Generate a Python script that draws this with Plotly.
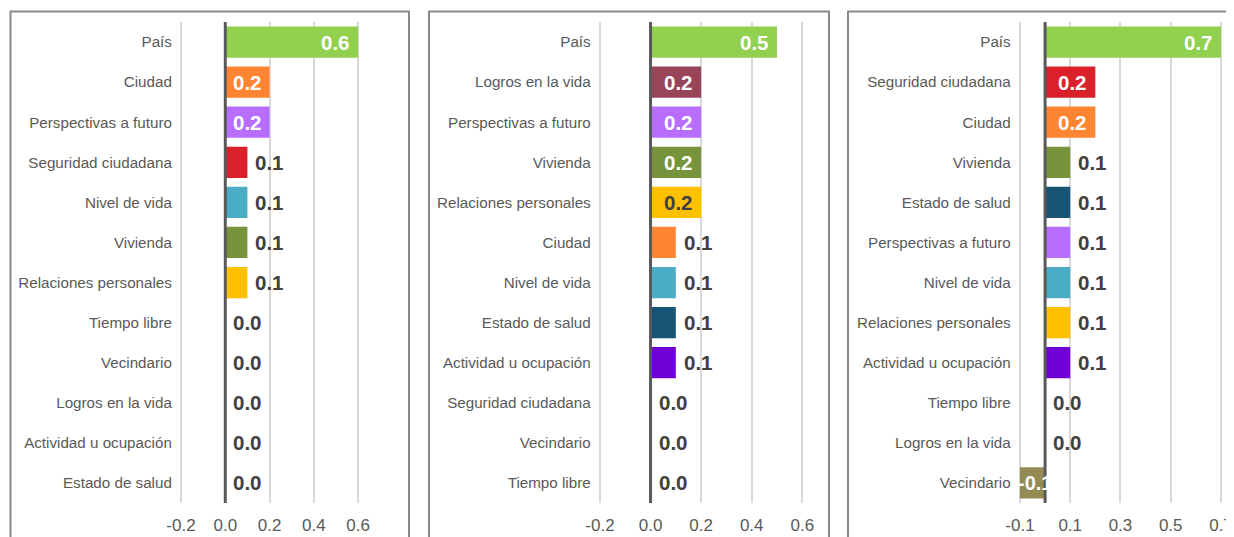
import plotly.graph_objects as go

# Colores por categoria
colores = {
    "País": "#92D050",
    "Ciudad": "#FF8533",
    "Perspectivas a futuro": "#B76EFF",
    "Seguridad ciudadana": "#D9202B",
    "Nivel de vida": "#4BACC6",
    "Vivienda": "#77933C",
    "Relaciones personales": "#FFC000",
    "Logros en la vida": "#984459",
    "Estado de salud": "#175475",
    "Actividad u ocupación": "#7000D6",
    "Vecindario": "#948A54",
    "Tiempo libre": "#A6A6A6",
}

# Panel 1
cat_1 = ["País", "Ciudad", "Perspectivas a futuro", "Seguridad ciudadana", "Nivel de vida",
         "Vivienda", "Relaciones personales", "Tiempo libre", "Vecindario",
         "Logros en la vida", "Actividad u ocupación", "Estado de salud"]
val_1 = [0.6, 0.2, 0.2, 0.1, 0.1, 0.1, 0.1, 0.0, 0.0, 0.0, 0.0, 0.0]

# Panel 2
cat_2 = ["País", "Logros en la vida", "Perspectivas a futuro", "Vivienda", "Relaciones personales",
         "Ciudad", "Nivel de vida", "Estado de salud", "Actividad u ocupación",
         "Seguridad ciudadana", "Vecindario", "Tiempo libre"]
val_2 = [0.5, 0.2, 0.2, 0.2, 0.2, 0.1, 0.1, 0.1, 0.1, 0.0, 0.0, 0.0]

# Panel 3
cat_3 = ["País", "Seguridad ciudadana", "Ciudad", "Vivienda", "Estado de salud",
         "Perspectivas a futuro", "Nivel de vida", "Relaciones personales",
         "Actividad u ocupación", "Tiempo libre", "Logros en la vida", "Vecindario"]
val_3 = [0.7, 0.2, 0.2, 0.1, 0.1, 0.1, 0.1, 0.1, 0.1, 0.0, 0.0, -0.1]

# Ticks del eje x
tickvals_1 = [-0.2, 0.0, 0.2, 0.4, 0.6]
ticktext_1 = ["-0.2", "0.0", "0.2", "0.4", "0.6"]
tickvals_2 = [-0.2, 0.0, 0.2, 0.4, 0.6]
ticktext_2 = ["-0.2", "0.0", "0.2", "0.4", "0.6"]
tickvals_3 = [-0.1, 0.1, 0.3, 0.5, 0.7]
ticktext_3 = ["-0.1", "0.1", "0.3", "0.5", "0.7"]

W, H = 1234, 537
OFF = 8  # margen del body de la pagina
FONT = "Liberation Sans, Arial, sans-serif"
GRIS = "#595959"

# (categorias, valores, ticks, rango x, dominio en px, marco en px)
paneles = [
    (cat_1, val_1, tickvals_1, ticktext_1, [-0.205, 0.61], (179.9, 360.3), (10.5, 409)),
    (cat_2, val_2, tickvals_2, ticktext_2, [-0.205, 0.61], (598.7, 804.8), (429, 829)),
    (cat_3, val_3, tickvals_3, ticktext_3, [-0.105, 0.71], (1018.7, 1223.5), (848, 1260)),
]

fig = go.Figure()
annotations = []
shapes = []

for i, (cats, vals, tv, tt, rng, (px0, px1), (bx0, bx1)) in enumerate(paneles):
    n = "" if i == 0 else str(i + 1)
    xa, ya = "x" + n, "y" + n

    fig.add_trace(go.Bar(
        x=vals, y=cats, orientation="h",
        marker=dict(color=[colores[c] for c in cats], line=dict(width=0)),
        width=0.78, xaxis=xa, yaxis=ya, showlegend=False, hoverinfo="x+y",
    ))

    fig.update_layout(**{
        "xaxis" + n: dict(
            domain=[(px0 - OFF) / W, (px1 - OFF) / W], range=rng,
            tickmode="array", tickvals=tv, ticktext=tt,
            showgrid=True, gridcolor="#D9D9D9", gridwidth=2,
            zeroline=False, showline=False, ticks="", anchor=ya, automargin=False,
            tickfont=dict(family=FONT, size=17, color=GRIS), ticklabelstandoff=10,
            ticklabeloverflow="allow", fixedrange=True,
        ),
        "yaxis" + n: dict(
            domain=[(H - 503 + OFF) / H, (H - 22 + OFF) / H], type="category",
            categoryorder="array", categoryarray=cats, autorange="reversed",
            showgrid=False, zeroline=False, showline=False, ticks="", anchor=xa,
            automargin=False,
            tickfont=dict(family=FONT, size=15.2, color=GRIS), ticklabelstandoff=7,
            fixedrange=True,
        ),
    })

    # linea del cero
    shapes.append(dict(type="line", xref=xa, yref=ya + " domain", x0=0, x1=0, y0=0, y1=1,
                       line=dict(color=GRIS, width=3), layer="above"))
    # marco del panel
    shapes.append(dict(type="rect", xref="paper", yref="paper",
                       x0=(bx0 - OFF) / W, x1=(bx1 - OFF) / W,
                       y0=-0.2, y1=1 - (11.5 - OFF) / H,
                       line=dict(color="#898989", width=2), layer="below"))

    # etiquetas de valores
    for c, v in zip(cats, vals):
        txt = "<b>%.1f</b>" % v
        if v < 0:
            annotations.append(dict(x=v, y=c, xref=xa, yref=ya, text=txt, showarrow=False,
                                    xanchor="left", xshift=-4,
                                    font=dict(family=FONT, size=20, color="white")))
        elif v >= 0.15:
            col = "#404040" if c == "Relaciones personales" else "white"
            annotations.append(dict(x=v, y=c, xref=xa, yref=ya, text=txt, showarrow=False,
                                    xanchor="right", xshift=-6,
                                    font=dict(family=FONT, size=20.5, color=col)))
        else:
            annotations.append(dict(x=v, y=c, xref=xa, yref=ya, text=txt, showarrow=False,
                                    xanchor="left", xshift=6,
                                    font=dict(family=FONT, size=20.5, color="#404040")))

fig.update_layout(
    width=W, height=H,
    margin=dict(l=0, r=0, t=0, b=0, pad=0, autoexpand=False),
    paper_bgcolor="white", plot_bgcolor="white",
    bargap=0.22,
    shapes=shapes, annotations=annotations,
)

fig.write_html("out.html")
